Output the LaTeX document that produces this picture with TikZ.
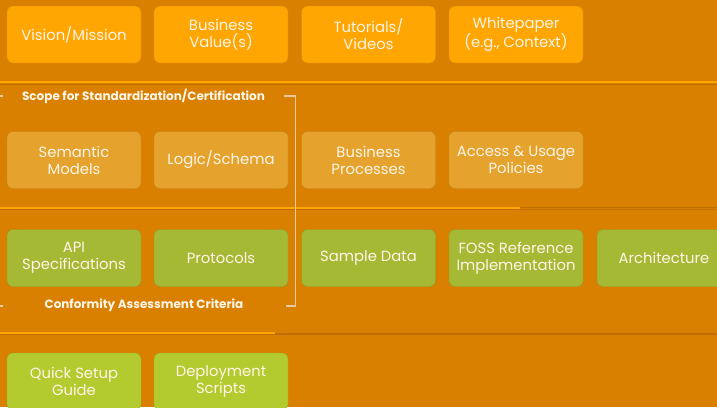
\documentclass[tikz,border=0pt]{standalone}
\usepackage{fontspec}
\setmainfont{Poppins}
\usepackage{xcolor}

\definecolor{bgorange}{HTML}{DA8000}
\definecolor{toporange}{HTML}{FFA602}
\definecolor{scopeorange}{HTML}{E5A22C}
\definecolor{specgreen}{HTML}{A6B935}
\definecolor{setupgreen}{HTML}{B3CB2F}
\definecolor{lineorange}{HTML}{FFA500}
\definecolor{darkline}{HTML}{BF6D00}
\definecolor{bracketcol}{HTML}{E8CAA2}
\definecolor{boxtext}{HTML}{FFF5E8}

\tikzset{
  box/.style={rounded corners=6pt, minimum width=134pt, minimum height=57pt,
    inner sep=0pt, align=center, text=boxtext, font=\fontsize{14.8}{17}\selectfont},
  topbox/.style={box, fill=toporange, draw=toporange!85!black},
  scopebox/.style={box, fill=scopeorange, draw=scopeorange!85!black},
  specbox/.style={box, fill=specgreen, draw=specgreen!85!black},
  setupbox/.style={box, fill=setupgreen, draw=setupgreen!85!black},
  label/.style={text=boxtext, font=\bfseries\fontsize{12}{14}\selectfont}
}

\begin{document}
\begin{tikzpicture}[x=1pt,y=-1pt]
        \useasboundingbox (0,0) rectangle (717,407);
        \clip (0,0) rectangle (717,407);
        \fill[bgorange] (0,0) rectangle (717,407);

        % Separators
        \draw[lineorange,line width=2pt] (0,82) -- (717,82);
        \draw[darkline,line width=0.8pt] (0,84.5) -- (717,84.5);
        \draw[lineorange,line width=2pt] (0,207.5) -- (520,207.5);
        \draw[darkline,line width=0.8pt] (520,207.5) -- (717,207.5);
        \draw[darkline,line width=0.8pt] (0,209.5) -- (717,209.5);
        \draw[lineorange,line width=1.5pt] (0,333) -- (275,333);
        \draw[darkline,line width=0.8pt] (275,333) -- (717,333);
        \draw[darkline,line width=0.8pt] (0,334.5) -- (717,334.5);

        % Top row
        \node[topbox] (vision) at (74,34.5) {Vision/Mission};
        \node[topbox] (value) at (221,34.5) {Business\\Value(s)};
        \node[topbox] (tutorials) at (368.5,34.5) {Tutorials/\\Videos};
        \node[topbox] (whitepaper) at (516,34.5) {Whitepaper\\(e.g., Context)};

        % Scope row
        \node[scopebox] (semantic) at (74,160) {Semantic\\Models};
        \node[scopebox] (logic) at (221,160) {Logic/Schema};
        \node[scopebox] (processes) at (368.5,160) {Business\\Processes};
        \node[scopebox] (policies) at (516,160) {Access \& Usage\\Policies};

        % Spec row
        \node[specbox] (api) at (74,258) {API\\Specifications};
        \node[specbox] (protocols) at (221,258) {Protocols};
        \node[specbox] (sample) at (368.5,258) {Sample Data};
        \node[specbox] (foss) at (516,258) {FOSS Reference\\Implementation};
        \node[specbox] (architecture) at (664,258) {Architecture};

        % Setup row
        \node[setupbox] (setup) at (74,381.5) {Quick Setup\\Guide};
        \node[setupbox] (deploy) at (221,381.5) {Deployment\\Scripts};

        % Scope bracket
        \node[label] (scope) at (143.5,96) {Scope for Standardization/Certification};
        \node[label] (conformity) at (144,305) {Conformity Assessment Criteria};
        \draw[bracketcol,line width=1.1pt] (284,96) -- (295.5,96) -- (295.5,306) -- (286,306);
        \draw[bracketcol,line width=1.1pt] (0,96) -- (3,96);
        \draw[bracketcol,line width=1.1pt] (0,306) -- (3,306);
    \end{tikzpicture}
\end{document}
